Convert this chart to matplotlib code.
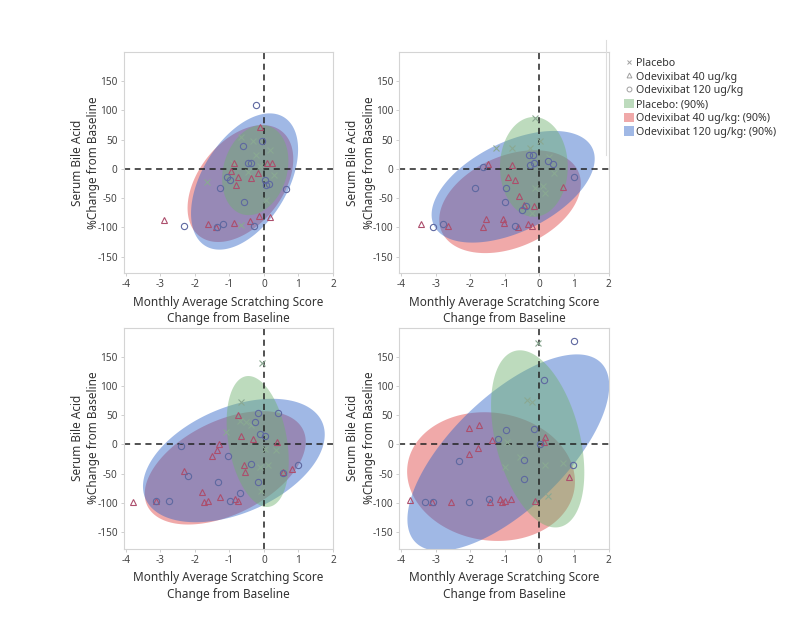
import numpy as np
import matplotlib
matplotlib.use('Agg')
import matplotlib.pyplot as plt
from matplotlib.lines import Line2D
from matplotlib.patches import Patch

plt.rcParams['font.family'] = ['Noto Sans', 'DejaVu Sans']

##-------------------------------------------------------------------------
## Data (one entry per panel)
##-------------------------------------------------------------------------
groups = ['Placebo', 'Odevixibat 40 ug/kg', 'Odevixibat 120 ug/kg']

placebo_x = [
    [-0.31, -0.67, 0.18, -0.22, -1.66, -0.65, 0.07, -0.9, -0.45, 0.3, -0.1],
    [-0.12, -1.26, -0.79, -0.27, 0.02, 0.43, -0.12, 0.09, 0.15, -0.22, 0.28],
    [-0.06, -0.65, -0.7, -0.51, 0.02, 0.12, 0.36, -0.12, -0.08, -1.1, -0.37],
    [-0.03, -0.37, -0.22, -0.94, -0.56, -1.01, 0.16, 0.69, 0.26],
]
placebo_y = [
    [47, 55, 33, 24, -22, -96, -53, 10, -5, -10, 5],
    [87, 35, 35, 35, 47, -7, -33, -29, -42, -76, 21],
    [140, 73, 40, 38, -7, -36, -10, -39, -79, 21, 33],
    [173, 76, 73, 4, -21, -38, -36, -32, -89],
]

d40_x = [
    [-2.9, -0.12, -0.87, -0.96, -0.75, -0.8, -0.37, -0.17, 0.24, 0.1,
     -1.61, -1.39, -0.87, -0.40, -0.15, 0.18],
    [-3.44, -2.64, -1.54, -1.64, -1.5, -0.79, -0.92, -0.7, -0.59, -0.44,
     -0.17, -1.06, -1.02, -0.61, -0.32, -0.21, 0.67],
    [-3.8, -3.12, -2.31, -1.79, -1.73, -1.61, -1.5, -1.37, -1.3, -1.26,
     -0.85, -0.75, -0.75, -0.65, -0.58, -0.56, -0.32, 0.38, 0.55, 0.81],
    [-3.76, -3.1, -2.57, -2.05, -1.75, -2.05, -1.77, -1.36, -1.42, -1.13,
     -1.07, -1.01, -0.82, -0.12, 0.16, 0.13, 0.86],
]
d40_y = [
    [-88, 71, 10, -3, -14, -27, -16, -7, 11, 11,
     -94, -99, -92, -89, -81, -83],
    [-94, -97, -85, -99, 9, 6, -14, -19, -47, -62,
     -63, -86, -93, -99, -94, -97, -31],
    [-99, -97, -46, -81, -99, -97, -19, -10, 0, -90,
     -93, -97, 50, 14, -36, -48, 10, 5, -48, -42],
    [-95, -99, -99, 28, 34, -17, -6, 7, -99, -93,
     -99, -97, -93, -97, 13, 4, -55],
]

d120_x = [
    [-0.24, -0.6, -0.46, -0.38, -1.07, -0.99, -1.26, 0.02, 0.05, 0.16,
     0.64, -0.58, -2.32, -1.17, -1.37, -0.3, -0.05],
    [-3.08, -2.79, -1.64, -1.85, -0.96, -1.01, -0.51, -0.4, -0.7, -0.29,
     -0.2, -0.27, -0.17, 0.24, 0.38, 1.0],
    [-3.12, -2.75, -2.4, -2.21, -1.33, -1.04, -0.99, -0.7, -0.37, -0.27,
     -0.17, -0.1, 0.02, 0.4, -0.17, 0.98, 0.55],
    [1.0, 0.12, -0.97, -1.21, -0.17, -2.32, -0.46, -0.46, -3.3, -3.08,
     -2.03, -1.47, 0.98, 0.02],
]
d120_y = [
    [110, 39, 11, 10, -13, -19, -33, -19, -28, -25,
     -35, -56, -97, -94, -99, -98, 47],
    [-99, -94, 3, -33, -33, -56, -70, -63, -98, 24,
     24, 7, 11, 13, 8, -13],
    [-97, -97, -2, -54, -65, -19, -96, -83, -34, 38,
     54, 18, 14, 54, -65, -36, -49],
    [177, 111, 24, 9, 26, -29, -27, -59, -99, -99,
     -99, -93, -36, 1],
]

# 90% density ellipses: mean, standard deviation and correlation per group
ell_mean_x = [[-0.25, -0.68, -0.56], [-0.16, -0.85, -0.76],
              [-0.18, -1.12, -0.87], [-0.05, -1.40, -0.90]]
ell_mean_y = [[-2, -25, -21.5], [3.5, -56, -30.5],
              [5, -40, -27.5], [9.5, -55, -14]]
ell_sd_x = [[0.447, 0.713, 0.722], [0.457, 0.955, 1.10],
            [0.419, 1.086, 1.226], [0.629, 1.132, 1.361]]
ell_sd_y = [[35.9, 46.6, 54.3], [39.8, 41.0, 44.5],
            [52.2, 45.2, 49.2], [70.6, 51.3, 78.3]]
ell_rho = [[0.2, 0.42, 0.47], [0.0, 0.35, 0.5],
           [-0.3, 0.46, 0.42], [-0.38, -0.08, 0.68]]

x_ticks = [-4, -3, -2, -1, 0, 1, 2]
y_ticks = [-150, -100, -50, 0, 50, 100, 150]

##-------------------------------------------------------------------------
## Styling
##-------------------------------------------------------------------------
fill_colors = ['#6eb16e', '#de4242', '#2c63c7']   # placebo, 40, 120
fill_alpha = 0.45
draw_order = [1, 2, 0]                             # red, blue, green on top
mark_colors = ['#8aa892', '#ac4e6c', '#5e68a0']
markers = ['x', '^', 'o']
k90 = np.sqrt(-2 * np.log(0.10))

W, H = 797, 637
fig = plt.figure(figsize=(W / 100, H / 100), dpi=100)

panel_px = [(124, 52), (399.5, 52), (124, 327.5), (399.5, 327.5)]
ax_w, ax_h = 209, 221

t = np.linspace(0, 2 * np.pi, 200)
for p in range(4):
    left, top = panel_px[p]
    ax = fig.add_axes([left / W, 1 - (top + ax_h) / H, ax_w / W, ax_h / H])

    for g in draw_order:
        mx, my = ell_mean_x[p][g], ell_mean_y[p][g]
        sx, sy, r = ell_sd_x[p][g], ell_sd_y[p][g], ell_rho[p][g]
        ex = mx + k90 * sx * np.cos(t)
        ey = my + k90 * sy * (r * np.cos(t) + np.sqrt(1 - r ** 2) * np.sin(t))
        ax.fill(ex, ey, color=fill_colors[g], alpha=fill_alpha, lw=0, zorder=1)

    ax.axhline(0, color='#222222', lw=1.1, ls=(0, (4, 3)), zorder=2)
    ax.axvline(0, color='#222222', lw=1.1, ls=(0, (4, 3)), zorder=2)

    series = [(placebo_x[p], placebo_y[p]), (d40_x[p], d40_y[p]),
              (d120_x[p], d120_y[p])]
    for g, (xs, ys) in enumerate(series):
        ax.plot(xs, ys, ls='none', marker=markers[g], ms=4.5 if g else 4,
                mfc='none', mec=mark_colors[g], mew=0.8, zorder=3)

    ax.set_xlim(-4.05, 1.98)
    ax.set_ylim(-178, 200)
    ax.set_xticks(x_ticks)
    ax.set_yticks(y_ticks)
    ax.set_xticklabels([str(v) for v in x_ticks])
    ax.set_yticklabels([str(v) for v in y_ticks])
    ax.tick_params(labelsize=7.2, colors='#444444', length=2.5, width=0.6,
                   color='#c8c8c8', pad=2)
    for s in ax.spines.values():
        s.set_color('#d4d4d4')
        s.set_linewidth(0.8)
    ax.set_xlabel('Monthly Average Scratching Score\nChange from Baseline',
                  fontsize=8.5, color='#333333', labelpad=4, linespacing=1.35)
    ax.set_ylabel('Serum Bile Acid\n%Change from Baseline',
                  fontsize=8.5, color='#333333', linespacing=1.35)
    ax.yaxis.label.set_va('center')
    ax.yaxis.set_label_coords(-0.185, 0.5)

##-------------------------------------------------------------------------
## Legend
##-------------------------------------------------------------------------
handles = []
for g in range(3):
    handles.append(Line2D([], [], ls='none', marker=markers[g], ms=3.5,
                          mfc='none', mec='#a0a0a0', mew=0.7))
for g in range(3):
    handles.append(Patch(facecolor=fill_colors[g], alpha=fill_alpha, lw=0))
labels = groups + [g + ': (90%)' for g in groups]
fig.legend(handles, labels, loc='upper left', bbox_to_anchor=(619 / W, 1 - 52 / H),
           frameon=False, fontsize=7.7, labelspacing=0.22, handlelength=0.9,
           handleheight=1.0, handletextpad=0.15, borderpad=0, labelcolor='#333333')
fig.add_artist(Line2D([606 / W, 606 / W], [1 - 40 / H, 1 - 155 / H],
                      color='#dddddd', lw=0.8))

fig.savefig('out.png', dpi=100)
